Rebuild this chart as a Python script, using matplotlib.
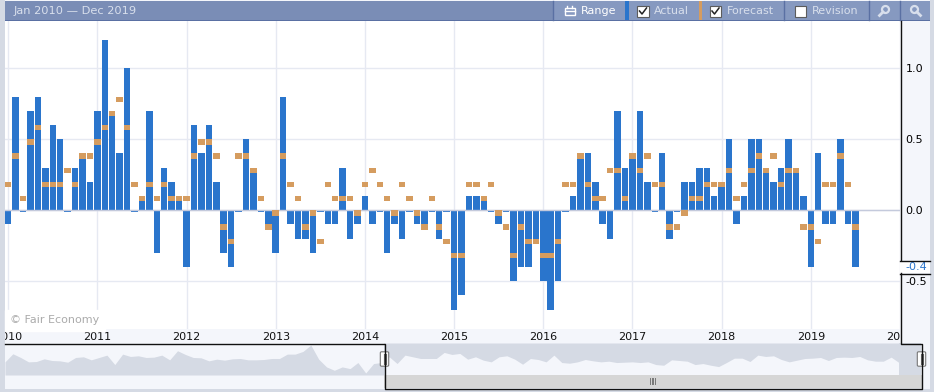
"""Monthly actual vs forecast bars with the range navigator underneath."""
import matplotlib
matplotlib.use("Agg")
import matplotlib.pyplot as plt
import numpy as np
from matplotlib.patches import Circle, FancyBboxPatch, Rectangle

# Month by month, Jan 2010 to Jul 2019
actual = [
    -0.1, 0.8, 0.0, 0.7, 0.8, 0.3, 0.6, 0.5, 0.0, 0.3, 0.4, 0.2,
    0.7, 1.2, 0.7, 0.4, 1.0, 0.0, 0.1, 0.7, -0.3, 0.3, 0.2, 0.1,
    -0.4, 0.6, 0.4, 0.6, 0.2, -0.3, -0.4, 0.0, 0.5, 0.3, 0.0, -0.1,
    -0.3, 0.8, -0.1, -0.2, -0.2, -0.3, 0.0, -0.1, -0.1, 0.3, -0.2, -0.1,
    0.1, -0.1, 0.0, -0.3, -0.1, -0.2, 0.0, -0.1, -0.1, 0.0, -0.2, 0.0,
    -0.7, -0.6, 0.1, 0.1, 0.1, 0.0, -0.1, 0.0, -0.5, -0.4, -0.4, -0.2,
    -0.5, -0.7, -0.5, 0.0, 0.1, 0.4, 0.4, 0.2, -0.1, -0.2, 0.7, 0.3,
    0.4, 0.7, 0.2, 0.0, 0.4, -0.2, 0.0, 0.2, 0.2, 0.3, 0.3, 0.1,
    0.2, 0.5, -0.1, 0.1, 0.5, 0.5, 0.3, 0.2, 0.3, 0.5, 0.3, 0.1,
    -0.4, 0.4, -0.1, -0.1, 0.5, -0.1, -0.4,
]
forecast = [
    0.2, 0.4, 0.1, 0.5, 0.6, 0.2, 0.2, 0.2, 0.3, 0.2, 0.4, 0.4,
    0.5, 0.6, 0.7, 0.8, 0.6, 0.2, 0.1, 0.2, 0.1, 0.2, 0.1, 0.1,
    0.1, 0.4, 0.5, 0.5, 0.4, -0.1, -0.2, 0.4, 0.4, 0.3, 0.1, -0.1,
    0.0, 0.4, 0.2, 0.1, -0.1, 0.0, -0.2, 0.2, 0.1, 0.1, 0.1, 0.0,
    0.2, 0.3, 0.2, 0.1, 0.0, 0.2, 0.1, 0.0, -0.1, 0.1, -0.1, -0.2,
    -0.3, -0.3, 0.2, 0.2, 0.1, 0.2, 0.0, -0.1, -0.3, -0.1, -0.2, -0.2,
    -0.3, -0.3, -0.2, 0.2, 0.2, 0.4, 0.2, 0.1, 0.1, 0.3, 0.3, 0.1,
    0.4, 0.3, 0.4, 0.2, 0.2, -0.1, -0.1, 0.0, 0.1, 0.1, 0.2, 0.2,
    0.2, 0.3, 0.1, 0.2, 0.3, 0.4, 0.3, 0.4, 0.2, 0.3, 0.3, -0.1,
    -0.1, -0.2, 0.2, 0.2, 0.4, 0.2, -0.1,
]
# Navigator outline, same months, arbitrary units
navigator = [
    39, 63, 52, 39, 40, 48, 43, 42, 38, 52, 54, 45, 52, 59, 31, 62, 55, 57, 52, 53,
    59, 45, 72, 61, 52, 51, 42, 47, 44, 48, 49, 45, 45, 46, 49, 49, 62, 62, 70, 89,
    47, 24, 14, 24, 19, 37, 6, 34, 37, 54, 34, 59, 54, 49, 49, 49, 67, 61, 64, 47,
    54, 44, 39, 54, 57, 47, 32, 49, 46, 39, 59, 37, 35, 39, 46, 42, 39, 41, 37, 38,
    39, 37, 39, 31, 29, 45, 43, 41, 31, 34, 29, 25, 37, 50, 50, 40, 59, 55, 57, 46,
    39, 44, 49, 50, 52, 43, 52, 53, 52, 55, 45, 41, 41, 53, 37,
]
years = list(range(2010, 2021))
y_ticks = [-0.5, 0.0, 0.5, 1.0]

BLUE = "#2a75cc"
ORANGE = "#d59c5f"
GRID = "#e6e9f2"
PALE = "#f4f6fb"
STRIP = "#d5dae4"
HEADER = "#7a8db6"
BUTTON = "#8699c0"
LINE = "#5a70a3"
LABEL = "#d8dfec"
W, H = 934, 392

plt.rcParams["font.family"] = "DejaVu Sans"
fig = plt.figure(figsize=(W / 100, H / 100), dpi=100, facecolor=PALE)


def box(x0, y0, x1, y1):
    # pixel box measured from the top left -> figure fractions
    return [x0 / W, 1 - y1 / H, (x1 - x0) / W, (y1 - y0) / H]


# Chrome: everything around the plots, in pixels
chrome = fig.add_axes([0, 0, 1, 1], zorder=0)
chrome.set_xlim(0, W)
chrome.set_ylim(H, 0)
chrome.axis("off")

top = fig.add_axes([0, 0, 1, 1], zorder=5)
top.set_xlim(0, W)
top.set_ylim(H, 0)
top.axis("off")
top.patch.set_alpha(0)

for rect in [(0, 0, 5, H), (930, 0, 4, H), (0, 388.5, W, 4)]:
    chrome.add_patch(Rectangle(rect[:2], rect[2], rect[3], color=STRIP, lw=0))

# Header bar and buttons
top.add_patch(Rectangle((5, 1), 925, 19, color=HEADER, lw=0))
top.add_patch(Rectangle((5, 20), 925, 1, color=LINE, lw=0))
top.add_patch(Rectangle((554, 1), 71, 19, color=BUTTON, lw=0))
top.add_patch(Rectangle((869, 1), 61, 19, color=BUTTON, lw=0))
top.add_patch(Rectangle((625, 1), 3.5, 19, color=BLUE, lw=0))
top.add_patch(Rectangle((629, 1), 70, 19, color=BUTTON, lw=0))
top.add_patch(Rectangle((699, 1), 3, 19, color=ORANGE, lw=0))
top.add_patch(Rectangle((702, 1), 167, 19, color=BUTTON, lw=0))
for sep in [553, 783.5, 868.5, 899.5]:
    top.plot([sep, sep], [1, 20], color=LINE, lw=1)

top.text(13.5, 11, "Jan 2010 \u2014 Dec 2019", color=LABEL, fontsize=8.2, va="center")
top.text(580.5, 11, "Range", color="white", fontsize=8, va="center", fontweight="medium")
top.text(654, 11, "Actual", color=LABEL, fontsize=8, va="center")
top.text(726.5, 11, "Forecast", color=LABEL, fontsize=8, va="center")
top.text(811.5, 11, "Revision", color=LABEL, fontsize=8, va="center")

# Check boxes
for left, ticked in [(637, True), (709.5, True), (794.5, False)]:
    top.add_patch(Rectangle((left, 5.5), 11.5, 11, fc="white", ec="#5c5c5c", lw=0.8))
    if ticked:
        top.plot([left + 2.5, left + 5, left + 9.5], [11, 14, 8], color="#222222", lw=1.1)

# Calendar and magnifier icons
top.add_patch(Rectangle((564.5, 8), 10, 7, fc="none", ec="white", lw=1))
top.plot([564.5, 574.5], [10.5, 10.5], color="white", lw=1)
top.plot([567, 567], [6, 8], color="white", lw=1)
top.plot([572, 572], [6, 8], color="white", lw=1)
for cx, tail in [(885.5, -1), (914.5, 1)]:
    top.add_patch(Circle((cx, 9.5), 3.5, fc="none", ec=LABEL, lw=1.6))
    top.plot([cx + tail * 2.5, cx + tail * 6], [12, 15.5], color=LABEL, lw=2)

# Main chart
x = np.arange(len(actual))
act = np.array(actual)
fc = np.array(forecast)
px_month = 7.467

ax = fig.add_axes(box(5, 21, 900, 329), zorder=2)
ax.set_xlim((5 - 8.2) / px_month, (900 - 8.2) / px_month)
ax.set_ylim(-0.836, 1.333)
ax.set_facecolor("white")
for s in ax.spines.values():
    s.set_visible(False)

year_pos = [12 * (yr - 2010) for yr in years]
ax.set_xticks(year_pos)
ax.set_xticklabels([])
ax.set_yticks(y_ticks)
ax.yaxis.tick_right()
ax.set_yticklabels([f"{v:.1f}" for v in y_ticks], fontsize=8, ha="left", clip_on=False)
ax.tick_params(length=0, axis="both", pad=4)
ax.grid(True, color=GRID, lw=1)
ax.set_axisbelow(True)

# zero months still show a sliver under the line
heights = np.where(act == 0, -0.012, act)
ax.bar(x, heights, width=0.87, color=BLUE, zorder=2)
ax.axhline(0, color="#c4cadc", lw=1, zorder=3)
ax.bar(x, np.full(len(fc), -0.038), bottom=fc, width=0.87, color=ORANGE, zorder=4)

ax.text(0.006, 0.028, "\u00a9 Fair Economy", transform=ax.transAxes, color="#ababab", fontsize=8,
        va="center", backgroundcolor="white", zorder=5)

# Latest value, between the two pieces of the scale box
ax.annotate(f"{actual[-1]:.1f}", xy=(1, actual[-1]), xycoords=ax.get_yaxis_transform(),
            xytext=(4, 0), textcoords="offset points", color=BLUE, fontsize=8, va="center",
            annotation_clip=False)

# Year labels, cut off by the strip like the two outer ones
strip = fig.add_axes(box(5, 329, 900, 343), zorder=1, sharex=ax)
strip.set_ylim(0, 1)
strip.set_facecolor(PALE)
strip.axis("off")
for pos, yr in zip(year_pos, years):
    strip.text(pos, 0.45, str(yr), ha="center", va="center", fontsize=8, clip_on=True, color="#111111")

# Navigator
nav = fig.add_axes(box(5, 343, 921, 375), zorder=1)
nav_month = 7.842
nav_x = np.arange(len(navigator))
nav_right = (921 - 5) / nav_month
split = (384 - 5) / nav_month
nav.set_xlim(0, nav_right)
nav.set_ylim(0, 95)
nav.set_facecolor(PALE)
nav.axis("off")
left_part = nav.fill_between(nav_x, 0, navigator, color=STRIP, lw=0)
left_part.set_clip_path(Rectangle((0, 0), split, 95, transform=nav.transData))
right_part = nav.fill_between(nav_x, navigator, 95, color=STRIP, lw=0)
right_part.set_clip_path(Rectangle((split, 0), nav_right - split, 95, transform=nav.transData))
nav.axvspan(nav_x[-1], nav_right, color=STRIP, lw=0)

# Scrollbar and outlines
top.add_patch(Rectangle((384, 375), 537.5, 13, color="#d6d6d6", lw=0))
for gx in [650, 651.5, 653, 654.5]:
    top.plot([gx, gx], [378, 384], color="#777777", lw=0.7)
outline = "#111111"
top.plot([900.5, 900.5], [21, 260], color=outline, lw=1)
top.plot([900, 930], [260.5, 260.5], color=outline, lw=1)
top.plot([900, 930], [273.5, 273.5], color=outline, lw=1)
top.plot([900.5, 900.5, 921.5, 921.5, 384.5, 384.5, 5], [273, 343.5, 343.5, 388.5, 388.5, 343.5, 343.5],
         color=outline, lw=1)

# Range handles
for cx in [384.5, 921.5]:
    top.add_patch(FancyBboxPatch((cx - 3, 353), 6, 12, boxstyle="round,pad=1.2", fc="white", ec="#777777", lw=0.8))
    top.plot([cx - 1, cx - 1], [354, 364], color="#555555", lw=0.8)
    top.plot([cx + 1, cx + 1], [354, 364], color="#555555", lw=0.8)

# Pale column behind the scale, white gap for the latest value
chrome.add_patch(Rectangle((900, 21), 30, 322, color=PALE, lw=0))
chrome.add_patch(Rectangle((900, 261), 30, 12, color="white", lw=0))

fig.savefig("out.png", dpi=100, facecolor=PALE)
